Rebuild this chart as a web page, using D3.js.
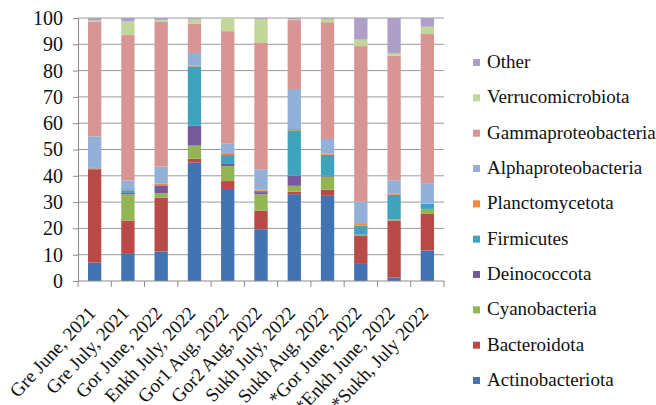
<!DOCTYPE html>
<html>
<head>
<meta charset="utf-8">
<script src="https://cdn.jsdelivr.net/npm/d3@7"></script>
<style>
  body { margin: 0; background: #fff; }
  svg { display: block; font-family: "Liberation Serif", "Times New Roman", serif; }
</style>
</head>
<body>
<script>
const width = 656, height = 405;

// samples along the x axis
const samples = ["Gre June, 2021", "Gre July, 2021", "Gor June, 2022", "Enkh July, 2022",
  "Gor1 Aug, 2022", "Gor2 Aug, 2022", "Sukh July, 2022", "Sukh Aug, 2022",
  "*Gor June, 2022", "*Enkh June, 2022", "*Sukh, July 2022"];

// stacking order, bottom to top
const taxa = ["Actinobacteriota", "Bacteroidota", "Cyanobacteria", "Deinococcota", "Firmicutes",
  "Planctomycetota", "Alphaproteobacteria", "Gammaproteobacteria", "Verrucomicrobiota", "Other"];

const colors = ["#4273b3", "#b94a47", "#93b553", "#76589b", "#3fa3bd",
  "#f28a3c", "#93b0d8", "#d99594", "#c2d69a", "#ae9fc6"];

// relative abundance (%) per taxon, one value per sample
const actinobacteriota    = [7.0, 10.3, 11.2, 45.0, 35.0, 19.7, 33.0, 32.4, 6.5, 1.3, 11.6];
const bacteroidota        = [35.5, 12.7, 20.5, 1.5, 3.0, 7.0, 1.0, 2.3, 10.6, 21.7, 13.9];
const cyanobacteria       = [0.0, 10.0, 1.7, 5.0, 5.7, 6.3, 2.2, 5.0, 0.3, 0.4, 1.9];
const deinococcota        = [0.0, 0.5, 2.8, 7.5, 0.8, 0.8, 3.8, 0.3, 0.2, 0.0, 0.0];
const firmicutes          = [0.3, 1.0, 0.3, 22.6, 3.4, 0.6, 17.3, 8.0, 3.4, 9.4, 1.9];
const planctomycetota     = [0.2, 0.5, 0.5, 0.4, 0.8, 0.5, 0.5, 0.5, 1.0, 0.3, 0.2];
const alphaproteobacteria = [12.0, 3.2, 6.5, 4.7, 3.5, 7.6, 15.2, 5.5, 8.2, 5.2, 7.7];
const gammaproteobacteria = [43.5, 55.5, 55.0, 11.2, 42.8, 48.0, 26.2, 44.4, 59.1, 47.3, 56.7];
const verrucomicrobiota   = [0.5, 5.0, 0.8, 1.6, 5.0, 9.0, 0.3, 1.2, 2.5, 0.9, 2.8];
const other               = [1.0, 1.3, 0.7, 0.5, 0.0, 0.5, 0.5, 0.4, 8.2, 13.5, 3.3];

const yTicks = [0, 10, 20, 30, 40, 50, 60, 70, 80, 90, 100];

const series = [actinobacteriota, bacteroidota, cyanobacteria, deinococcota, firmicutes,
  planctomycetota, alphaproteobacteria, gammaproteobacteria, verrucomicrobiota, other];

// table for d3.stack
const rows = samples.map((s, i) => {
  const r = { sample: s };
  taxa.forEach((t, k) => { r[t] = series[k][i]; });
  return r;
});

const margin = { left: 78, right: 212, top: 18, bottom: 124 };

const svg = d3.select("body").append("svg")
  .attr("width", width)
  .attr("height", height);

const x = d3.scaleBand()
  .domain(samples)
  .range([margin.left, width - margin.right])
  .paddingInner(0.6)
  .paddingOuter(0.3);

const y = d3.scaleLinear()
  .domain([0, 100])
  .range([height - margin.bottom, margin.top]);

const color = d3.scaleOrdinal().domain(taxa).range(colors);

// gridlines
svg.append("g")
  .selectAll("line")
  .data(yTicks.slice(1))
  .join("line")
    .attr("x1", margin.left)
    .attr("x2", width - margin.right)
    .attr("y1", d => y(d))
    .attr("y2", d => y(d))
    .attr("stroke", "#9a9a9a")
    .attr("stroke-width", 1);

const stack = d3.stack().keys(taxa)(rows);

svg.append("g")
  .selectAll("g")
  .data(stack)
  .join("g")
    .attr("fill", d => color(d.key))
  .selectAll("rect")
  .data(d => d)
  .join("rect")
    .attr("x", d => x(d.data.sample))
    .attr("width", x.bandwidth())
    .attr("y", d => y(d[1]))
    .attr("height", d => y(d[0]) - y(d[1]));

// y axis
const yAxis = svg.append("g")
  .attr("transform", `translate(${margin.left},0)`)
  .call(d3.axisLeft(y).tickValues(yTicks).tickSize(5).tickPadding(10));
yAxis.select(".domain").attr("stroke", "#8a8a8a");
yAxis.selectAll(".tick line").attr("stroke", "#8a8a8a");
yAxis.selectAll("text")
  .attr("font-size", 20)
  .attr("fill", "#111")
  .attr("font-family", "Liberation Serif, serif");

// x axis: ticks sit between categories
const step = x.step();
const xEdges = d3.range(samples.length + 1).map(i => margin.left + i * step);
const xAxis = svg.append("g")
  .attr("transform", `translate(0,${y(0)})`);
xAxis.append("line")
  .attr("x1", margin.left).attr("x2", width - margin.right)
  .attr("stroke", "#8a8a8a");
xAxis.selectAll(".edge")
  .data(xEdges)
  .join("line")
    .attr("class", "edge")
    .attr("x1", d => d).attr("x2", d => d)
    .attr("y1", 0).attr("y2", 6)
    .attr("stroke", "#8a8a8a");

xAxis.selectAll("text")
  .data(samples)
  .join("text")
    .attr("text-anchor", "end")
    .attr("font-size", 19)
    .attr("fill", "#111")
    .attr("transform", d => `translate(${x(d) + x.bandwidth() / 2 + 2},${33}) rotate(-47)`)
    .text(d => d);

// legend, top entry is the last stacked taxon
const legend = svg.append("g")
  .attr("transform", "translate(473,0)");
const legendItems = taxa.slice().reverse();
const ly = d3.scalePoint().domain(legendItems).range([62, 380]);

legend.selectAll("rect")
  .data(legendItems)
  .join("rect")
    .attr("x", 0)
    .attr("y", d => ly(d) - 3)
    .attr("width", 7)
    .attr("height", 7)
    .attr("fill", d => color(d));

legend.selectAll("text")
  .data(legendItems)
  .join("text")
    .attr("x", 14)
    .attr("y", d => ly(d) + 6)
    .attr("font-size", 19)
    .attr("fill", "#111")
    .text(d => d);
</script>
</body>
</html>
